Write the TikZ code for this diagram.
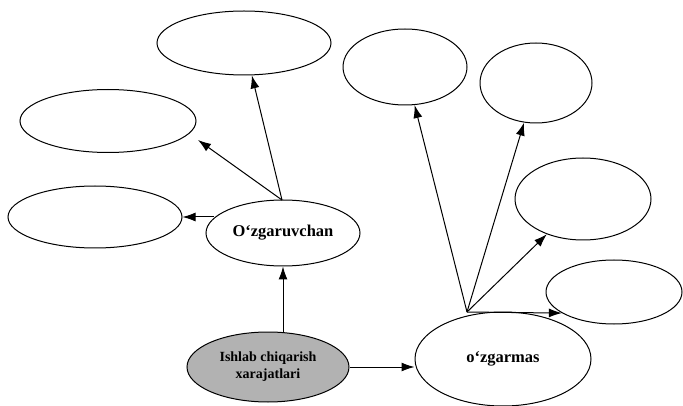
\documentclass[tikz,border=0pt]{standalone}
\usepackage{fontspec}
\setmainfont{Liberation Serif}
\usetikzlibrary{shapes.geometric,arrows.meta}
\begin{document}
\begin{tikzpicture}[x=1pt,y=-1pt,
  oval/.style={draw=black,line width=1pt,ellipse,inner sep=0pt,font=\bfseries\fontsize{16.5}{18}\selectfont,align=center},
  arr/.style={draw=black,line width=1pt,-{Latex[length=13pt,width=9pt]}}]
\useasboundingbox (0,0) rectangle (683,406);
% left group
\node[oval,minimum width=174pt,minimum height=64pt] (e1) at (244,43) {};
\node[oval,minimum width=176pt,minimum height=63pt] (e2) at (108,121) {};
\node[oval,minimum width=174pt,minimum height=62pt] (e3) at (95,217) {};
\node[oval,minimum width=154pt,minimum height=66pt] (ozg) at (283,233) {O‘zgaruvchan};
% centre
\node[oval,fill=gray!60,minimum width=162pt,minimum height=70pt,font=\bfseries\fontsize{14}{17}\selectfont] (src) at (268,367) {Ishlab chiqarish\\xarajatlari};
\node[oval,minimum width=176pt,minimum height=94pt] (ozm) at (503,359) {o‘zgarmas};
% right group
\node[oval,minimum width=124pt,minimum height=76pt] (r1) at (405,67) {};
\node[oval,minimum width=112pt,minimum height=80pt] (r2) at (536,83) {};
\node[oval,minimum width=136pt,minimum height=82pt] (r3) at (583,199) {};
\node[oval,minimum width=136pt,minimum height=64pt] (r4) at (614,292) {};
\coordinate (hubL) at (282,200);
\coordinate (hubR) at (467,312);
\coordinate (t2) at (198,140);
% connectors
\draw[arr] (ozg.south |- src.north) -- (ozg.south);
\draw[arr] (src.east) -- (src.east -| ozm.west);
\draw[arr] (ozg.west |- e3.east) ++(8,0) coordinate (l3) (l3) -- (e3.east);
\draw[arr] (hubL) -- (e1);
\draw[arr] (hubL) -- (t2);
\draw[arr] (hubR) -- (r1);
\draw[arr] (hubR) -- (r2);
\draw[arr] (hubR) -- (r3);
\draw[arr] (hubR) -- (r4.202);
\end{tikzpicture}
\end{document}
